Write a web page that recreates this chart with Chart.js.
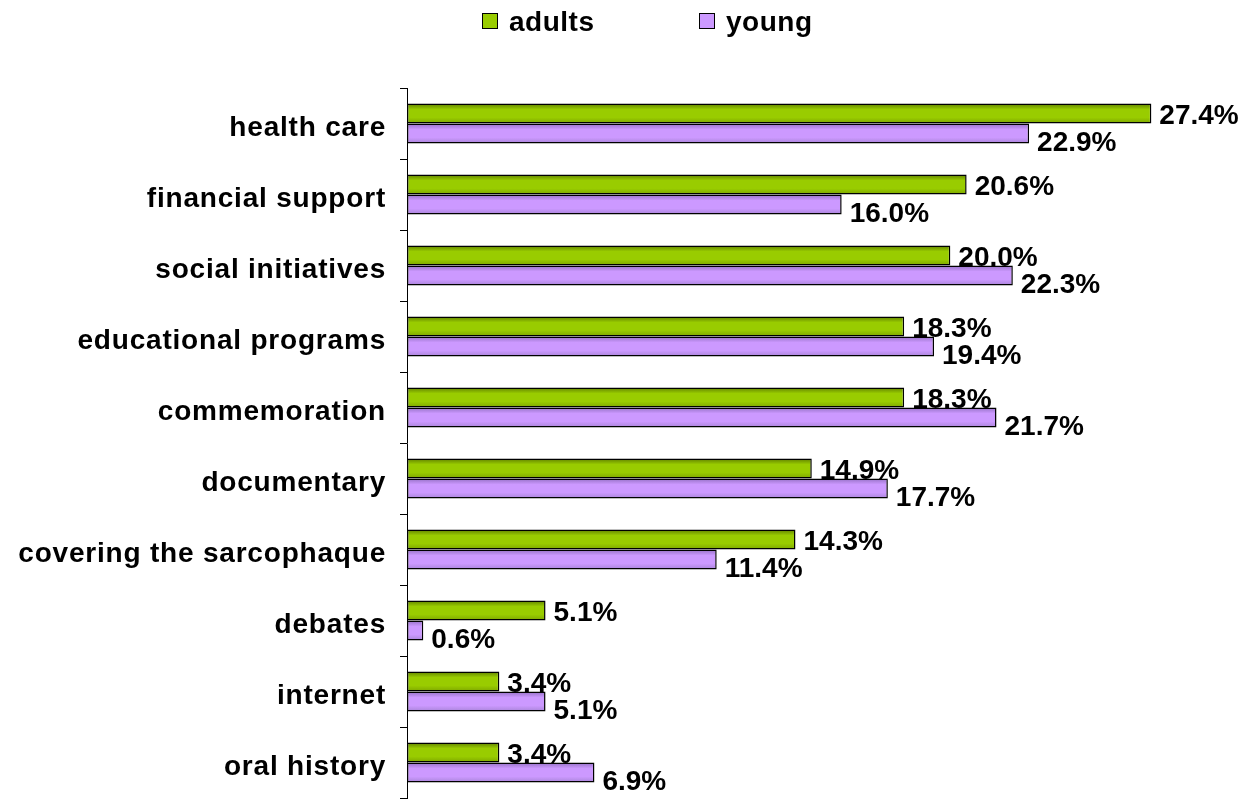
<!DOCTYPE html>
<html>
<head>
<meta charset="utf-8">
<script src="https://cdn.jsdelivr.net/npm/chart.js@4/dist/chart.umd.min.js"></script>
<style>
  html, body { margin: 0; padding: 0; background: #fff; }
  #wrap { position: relative; width: 1247px; height: 799px; }
  #legend { position: absolute; top: 5px; left: 0; width: 1247px; height: 34px; font-family: "Liberation Sans", Arial, sans-serif; font-weight: bold; font-size: 28px; letter-spacing: 0.5px; }
  .item { position: absolute; top: 0; line-height: 34px; }
  .box { display: inline-block; width: 14px; height: 14px; border: 1.5px solid #000; vertical-align: middle; margin-right: 11px; position: relative; top: -3px; }
</style>
</head>
<body>
<div id="wrap">
  <div id="legend"></div>
  <canvas id="chart" width="1247" height="799"></canvas>
</div>
<script>
// Chart data
const categories = ['health care', 'financial support', 'social initiatives', 'educational programs',
  'commemoration', 'documentary', 'covering the sarcophaque', 'debates', 'internet', 'oral history'];
const adults = [27.4, 20.6, 20.0, 18.3, 18.3, 14.9, 14.3, 5.1, 3.4, 3.4];
const young = [22.9, 16.0, 22.3, 19.4, 21.7, 17.7, 11.4, 0.6, 5.1, 6.9];
const seriesNames = ['adults', 'young'];
const seriesColors = ['#99cc00', '#cc99ff'];
// darker shades for the top / bottom edge of each bar
const edgeColors = [['#5f7f00', '#7da600'], ['#9470c4', '#a884d8']];

// HTML legend
const legend = document.getElementById('legend');
const legendX = [482, 699];
seriesNames.forEach((name, i) => {
    const item = document.createElement('div');
    item.className = 'item';
    item.style.left = legendX[i] + 'px';
    item.innerHTML = `<span class="box" style="background:${seriesColors[i]}"></span>${name}`;
    legend.appendChild(item);
});

// Shaded bars + value labels
const barStyle = {
    id: 'barStyle',
    beforeDraw(chart) {
        chart.ctx.letterSpacing = '0.8px';
    },
    beforeDatasetsDraw(chart) {
        const ctx = chart.ctx;
        ctx.letterSpacing = '0px';
        chart.data.datasets.forEach((ds, di) => {
            chart.getDatasetMeta(di).data.forEach(bar => {
                const top = bar.y - bar.height / 2;
                const g = ctx.createLinearGradient(0, top, 0, top + bar.height);
                g.addColorStop(0, edgeColors[di][0]);
                g.addColorStop(0.3, seriesColors[di]);
                g.addColorStop(0.7, seriesColors[di]);
                g.addColorStop(1, edgeColors[di][1]);
                // options are shared between bars, so give each bar its own copy
                bar.options = Object.assign({}, bar.options, { backgroundColor: g });
            });
        });
    },
    afterDatasetsDraw(chart) {
        const ctx = chart.ctx;
        ctx.save();
        ctx.font = 'bold 28px "Liberation Sans", Arial, sans-serif';
        ctx.fillStyle = '#000';
        ctx.textAlign = 'left';
        ctx.textBaseline = 'middle';
        chart.data.datasets.forEach((ds, di) => {
            const meta = chart.getDatasetMeta(di);
            meta.data.forEach((bar, i) => {
                const dy = di === 0 ? 3 : 10;
                ctx.fillText(ds.data[i].toFixed(1) + '%', bar.x + 8, bar.y + dy);
            });
        });
        ctx.restore();
    }
};

const ctx = document.getElementById('chart').getContext('2d');
new Chart(ctx, {
    type: 'bar',
    data: {
        labels: categories,
        datasets: [
            {
                label: seriesNames[0],
                data: adults,
                backgroundColor: seriesColors[0],
                borderColor: '#000',
                borderWidth: 1.5,
                borderSkipped: false
            },
            {
                label: seriesNames[1],
                data: young,
                backgroundColor: seriesColors[1],
                borderColor: '#000',
                borderWidth: 1.5,
                borderSkipped: false
            }
        ]
    },
    options: {
        indexAxis: 'y',
        responsive: false,
        animation: false,
        categoryPercentage: 0.565,
        barPercentage: 1,
        layout: { padding: { top: 88, bottom: 1, right: 25, left: 0 } },
        plugins: {
            legend: { display: false },
            tooltip: { enabled: false }
        },
        scales: {
            x: {
                display: false,
                min: 0,
                max: 30
            },
            y: {
                afterFit(scale) {
                    scale.width = 407;
                    scale.paddingTop = 0;
                    scale.paddingBottom = 0;
                },
                grid: {
                    offset: true,
                    drawOnChartArea: false,
                    drawTicks: true,
                    tickLength: 7,
                    color: '#000',
                    lineWidth: 1
                },
                border: { display: true, color: '#000', width: 1 },
                ticks: {
                    color: '#000',
                    padding: 14,
                    labelOffset: 5,
                    font: { family: '"Liberation Sans", Arial, sans-serif', weight: 'bold', size: 28 }
                }
            }
        }
    },
    plugins: [barStyle]
});
</script>
</body>
</html>
